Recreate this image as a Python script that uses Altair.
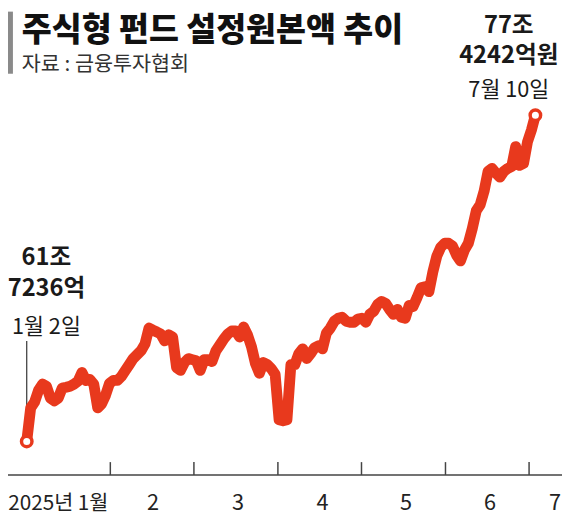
import altair as alt
import pandas as pd

# ---------------- data ----------------
TITLE = "주식형 펀드 설정원본액 추이"
SOURCE = "자료 : 금융투자협회"

# equity-fund principal (조원), sequence from 2025-01-02 to 2025-07-10
values = [
    61.7236, 63.34, 63.62, 64.19, 64.48, 64.38, 63.81, 63.67, 63.81, 64.29,
    64.33, 64.38, 64.48, 64.62, 65.04, 64.66, 64.71, 64.48, 63.34, 63.53,
    63.95, 64.52, 64.66, 64.66, 64.85, 65.14, 65.42, 65.71, 65.90, 66.09,
    66.42, 67.18, 67.08, 66.99, 66.89, 66.56, 66.85, 66.75, 65.28, 65.14,
    65.52, 65.71, 65.66, 65.61, 65.14, 65.66, 65.66, 65.57, 66.09, 66.37,
    66.66, 66.89, 67.04, 67.04, 66.75, 67.23, 66.85, 66.28, 65.47, 65.00,
    65.52, 65.42, 65.23, 64.95, 62.77, 62.72, 62.77, 65.42, 65.42, 65.95,
    66.18, 65.71, 65.95, 66.23, 66.33, 66.18, 66.94, 67.18, 67.51, 67.65,
    67.70, 67.51, 67.46, 67.46, 67.61, 67.65, 67.46, 67.84, 67.99, 68.32,
    68.46, 68.37, 68.08, 67.84, 68.08, 67.70, 67.65, 68.27, 68.22, 68.65,
    69.12, 69.17, 68.93, 69.88, 70.64, 71.07, 71.26, 71.26, 71.12, 70.69,
    70.41, 70.93, 71.26, 71.97, 72.82, 73.11, 73.77, 74.72, 74.86, 74.63,
    74.44, 74.72, 74.86, 74.96, 75.91, 75.01, 75.10, 76.14, 76.71, 77.4242,
]

# month starts, in units of the sequence index
month_breaks = [21.2, 42.4, 63.7, 84.9, 106.2, 127.4]
month_labels = ["2", "3", "4", "5", "6", "7"]
month_label_pos = [32.0, 53.6, 75.0, 96.2, 117.5, 134.0]
first_month_label = "2025년 1월"

start_note_bold = ["61조", "7236억"]
start_note_date = "1월 2일"
end_note_bold = ["77조", "4242억원"]
end_note_date = "7월 10일"

# ---------------- styling ----------------
FONT = "Noto Sans CJK KR"
RED = "#E8391D"
W, H = 562, 510

df = pd.DataFrame({"idx": list(range(len(values))), "value": values})
ends = df.iloc[[0, len(df) - 1]]
first = df.iloc[[0]]
last = df.iloc[[len(df) - 1]]
one = pd.DataFrame({"a": [0]})

xs = alt.Scale(domain=[-4.75, 135.75], nice=False, zero=False)
ys = alt.Scale(domain=[58.213, 82.407], nice=False, zero=False)


def X(f):
    return alt.X(f, type="quantitative", scale=xs, axis=None)


def Y(f):
    return alt.Y(f, type="quantitative", scale=ys, axis=None)


layers = []

# title bar + title + source
layers.append(alt.Chart(one).mark_rect(color="#8a8a8a").encode(
    x=alt.value(0), x2=alt.value(5), y=alt.value(0), y2=alt.value(63)))
layers.append(alt.Chart(one).mark_text(
    font=FONT, fontSize=33, fontWeight=900, color="#111", align="left",
    baseline="alphabetic").encode(x=alt.value(14), y=alt.value(30), text=alt.value(TITLE)))
layers.append(alt.Chart(one).mark_text(
    font=FONT, fontSize=21, color="#333", align="left",
    baseline="alphabetic").encode(x=alt.value(14), y=alt.value(60), text=alt.value(SOURCE)))

# x axis line and month ticks
layers.append(alt.Chart(one).mark_rule(color="#444", strokeWidth=1.5).encode(
    x=alt.value(0), x2=alt.value(W), y=alt.value(470)))
layers.append(alt.Chart(pd.DataFrame({"b": month_breaks})).mark_rule(
    color="#444", strokeWidth=1.5).encode(x=X("b"), y=alt.value(457), y2=alt.value(470)))
layers.append(alt.Chart(pd.DataFrame({"pos": month_label_pos, "lab": month_labels})).mark_text(
    font=FONT, fontSize=22, color="#222", align="center", baseline="alphabetic").encode(
    x=X("pos"), y=alt.value(506), text="lab:N"))
layers.append(alt.Chart(pd.DataFrame({"pos": [month_breaks[0]], "lab": [first_month_label]})).mark_text(
    font=FONT, fontSize=21, color="#222", align="right", baseline="alphabetic", dx=-2).encode(
    x=X("pos"), y=alt.value(506), text="lab:N"))

# leader line for the first point
layers.append(alt.Chart(first).mark_rule(color="#333", strokeWidth=1.2).encode(
    x=X("idx"), y=alt.value(334), y2=alt.value(428)))

# main line
layers.append(alt.Chart(df).mark_line(
    color=RED, strokeWidth=11, strokeJoin="round", strokeCap="round").encode(
    x=X("idx"), y=Y("value")))

# end circles
layers.append(alt.Chart(ends).mark_point(
    shape="circle", filled=True, fill="white", stroke=RED, strokeWidth=3.5,
    size=113, opacity=1).encode(x=X("idx"), y=Y("value")))

# start annotation
for txt, yb in zip(start_note_bold, [257, 288]):
    layers.append(alt.Chart(first).mark_text(
        font=FONT, fontSize=24, fontWeight="bold", color="#1a1a1a", align="center",
        baseline="alphabetic", dx=20).encode(x=X("idx"), y=alt.value(yb), text=alt.value(txt)))
layers.append(alt.Chart(first).mark_text(
    font=FONT, fontSize=22, color="#1a1a1a", align="center",
    baseline="alphabetic", dx=20).encode(x=X("idx"), y=alt.value(327), text=alt.value(start_note_date)))

# end annotation
for txt, yb in zip(end_note_bold, [22, 52]):
    layers.append(alt.Chart(last).mark_text(
        font=FONT, fontSize=24, fontWeight="bold", color="#1a1a1a", align="center",
        baseline="alphabetic", dx=-27).encode(x=X("idx"), y=alt.value(yb), text=alt.value(txt)))
layers.append(alt.Chart(last).mark_text(
    font=FONT, fontSize=22, color="#1a1a1a", align="center",
    baseline="alphabetic", dx=-27).encode(x=X("idx"), y=alt.value(87), text=alt.value(end_note_date)))

chart = alt.layer(*layers).properties(
    width=W, height=H, autosize=alt.AutoSizeParams(type="none"), padding=0,
    background="white",
).configure_view(stroke=None)

chart.save("out.html", embed_options={"renderer": "svg", "actions": False})
